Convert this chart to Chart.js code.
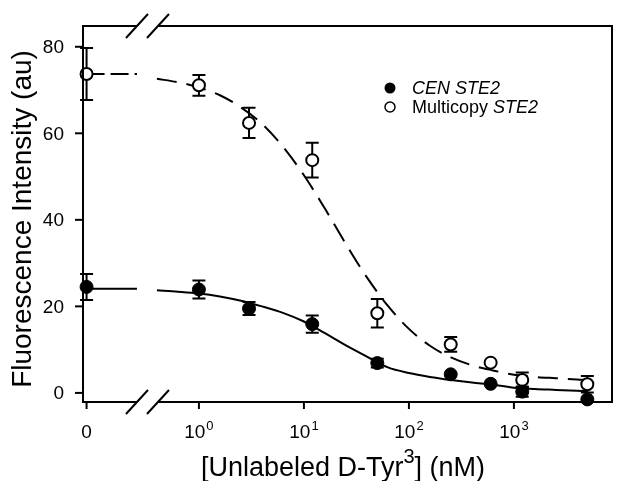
<!DOCTYPE html>
<html>
<head>
<meta charset="utf-8">
<script src="https://cdn.jsdelivr.net/npm/chart.js@4.4.0/dist/chart.umd.min.js"></script>
<style>
  html, body { margin: 0; padding: 0; background: #fff; }
</style>
</head>
<body>
<canvas id="bindingChart" width="620" height="481"></canvas>
<script>
// Concentrations of unlabeled D-Tyr3 (nM); 0 is drawn left of the axis break
const concentrations = [0, 1, 3, 12, 50, 250, 600, 1200, 5000];

// CEN STE2 (filled circles)
const cenValues = [24.5, 23.9, 19.5, 15.9, 6.9, 4.3, 2.1, 0.3, -1.5];
const cenErrors = [3.0, 2.1, 1.5, 2.0, 1.0, 0, 0, 1.2, 0];

// Multicopy STE2 (open circles)
const multiValues = [73.7, 71.1, 62.4, 53.8, 18.4, 11.2, 7.0, 3.0, 2.0];
const multiErrors = [6.0, 2.4, 3.5, 4.0, 3.3, 1.7, 0, 1.7, 1.9];

// Fitted curves, x in log10(nM)
const fitLogX = [-0.4, -0.2, 0, 0.2, 0.4, 0.6, 0.8, 1.0, 1.2, 1.4, 1.6, 1.8, 2.0, 2.2, 2.4, 2.6, 2.8, 3.0, 3.2, 3.4, 3.6, 3.7];
const cenFit = [23.7, 23.4, 23.0, 22.3, 21.3, 20.0, 18.5, 16.5, 13.8, 11.0, 8.4, 5.9, 4.6, 3.7, 3.0, 2.4, 1.9, 1.2, 0.9, 0.7, 0.5, 0.4];
const multiFit = [72.6, 71.8, 70.6, 68.8, 66.0, 62.2, 56.9, 50.3, 42.6, 34.4, 26.7, 20.1, 14.8, 10.9, 8.2, 6.4, 5.2, 4.2, 3.7, 3.4, 3.1, 3.0];
// flat part of each fit at zero concentration
const cenFitZero = 24.1;
const multiFitZero = 73.7;

const yTicks = [0, 20, 40, 60, 80];
const xTickConc = [0, 1, 10, 100, 1000];
const xTickBase = ["0", "10", "10", "10", "10"];
const xTickExp = ["", "0", "1", "2", "3"];

// axis layout (log10 units)
const zeroPos = -1.07;
const breakStart = -0.59;
const breakEnd = -0.39;

const FONT = '"Liberation Sans", Arial, sans-serif';

function xOf(conc) {
  return conc === 0 ? zeroPos : Math.log10(conc);
}

function pts(xs, ys) {
  return xs.map((x, i) => ({ x: x, y: ys[i] }));
}

const decorPlugin = {
  id: "decor",
  beforeDatasetsDraw(chart) {
    const ctx = chart.ctx;
    const xs = chart.scales.x;
    const ys = chart.scales.y;
    ctx.save();
    ctx.strokeStyle = "#000";
    ctx.lineWidth = 2;
    const series = [[cenValues, cenErrors], [multiValues, multiErrors]];
    series.forEach(([vals, errs]) => {
      concentrations.forEach((c, i) => {
        if (!errs[i]) return;
        const px = xs.getPixelForValue(xOf(c));
        const top = ys.getPixelForValue(vals[i] + errs[i]);
        const bot = ys.getPixelForValue(vals[i] - errs[i]);
        ctx.beginPath();
        ctx.moveTo(px, top);
        ctx.lineTo(px, bot);
        ctx.moveTo(px - 6.5, top);
        ctx.lineTo(px + 6.5, top);
        ctx.moveTo(px - 6.5, bot);
        ctx.lineTo(px + 6.5, bot);
        ctx.stroke();
      });
    });
    ctx.restore();
  },
  afterDraw(chart) {
    const ctx = chart.ctx;
    const area = chart.chartArea;
    const xs = chart.scales.x;
    const ys = chart.scales.y;
    const b1 = xs.getPixelForValue(breakStart);
    const b2 = xs.getPixelForValue(breakEnd);

    ctx.save();
    ctx.strokeStyle = "#000";
    ctx.fillStyle = "#000";
    ctx.lineWidth = 2;

    // frame with gaps at the break
    ctx.beginPath();
    ctx.moveTo(area.left, area.top);
    ctx.lineTo(area.left, area.bottom);
    ctx.moveTo(area.right, area.top);
    ctx.lineTo(area.right, area.bottom);
    [area.top, area.bottom].forEach((y) => {
      ctx.moveTo(area.left - 1, y);
      ctx.lineTo(b1, y);
      ctx.moveTo(b2, y);
      ctx.lineTo(area.right + 1, y);
    });
    ctx.stroke();

    // break marks
    ctx.beginPath();
    [area.top, area.bottom].forEach((y) => {
      [b1, b2].forEach((bx) => {
        ctx.moveTo(bx - 11, y + 12);
        ctx.lineTo(bx + 11, y - 12);
      });
    });
    ctx.stroke();

    // y ticks and labels
    ctx.font = "19px " + FONT;
    ctx.textAlign = "right";
    ctx.textBaseline = "middle";
    yTicks.forEach((v) => {
      const py = ys.getPixelForValue(v);
      ctx.beginPath();
      ctx.moveTo(area.left - 8, py);
      ctx.lineTo(area.left, py);
      ctx.stroke();
      ctx.fillText(String(v), area.left - 19, py + 1);
    });

    // x ticks and labels
    ctx.textBaseline = "alphabetic";
    xTickConc.forEach((c, i) => {
      const px = xs.getPixelForValue(xOf(c));
      ctx.beginPath();
      ctx.moveTo(px, area.bottom);
      ctx.lineTo(px, area.bottom + 7);
      ctx.stroke();
      ctx.font = "19px " + FONT;
      const wb = ctx.measureText(xTickBase[i]).width;
      ctx.font = "13px " + FONT;
      const we = xTickExp[i] ? ctx.measureText(xTickExp[i]).width + 1 : 0;
      const start = px - (wb + we) / 2;
      ctx.textAlign = "left";
      ctx.font = "19px " + FONT;
      ctx.fillText(xTickBase[i], start, 438);
      if (xTickExp[i]) {
        ctx.font = "13px " + FONT;
        ctx.fillText(xTickExp[i], start + wb + 1, 430);
      }
    });

    // x title with superscript
    const partA = "[Unlabeled D-Tyr";
    const partB = "3";
    const partC = "] (nM)";
    ctx.font = "27px " + FONT;
    const wa = ctx.measureText(partA).width;
    const wc = ctx.measureText(partC).width;
    ctx.font = "20px " + FONT;
    const wbSup = ctx.measureText(partB).width;
    let tx = 343 - (wa + wbSup + wc) / 2;
    ctx.textAlign = "left";
    ctx.font = "27px " + FONT;
    ctx.fillText(partA, tx, 476);
    tx += wa;
    ctx.font = "20px " + FONT;
    ctx.fillText(partB, tx, 463);
    tx += wbSup;
    ctx.font = "27px " + FONT;
    ctx.fillText(partC, tx, 476);

    // y title
    ctx.save();
    ctx.translate(23, 219);
    ctx.rotate(-Math.PI / 2);
    ctx.textAlign = "center";
    ctx.textBaseline = "middle";
    ctx.font = "28px " + FONT;
    ctx.fillText("Fluorescence Intensity (au)", 0, 0);
    ctx.restore();

    // legend
    const lx = 390;
    const ly1 = 88;
    const ly2 = 107;
    ctx.beginPath();
    ctx.arc(lx, ly1, 5.5, 0, Math.PI * 2);
    ctx.fill();
    ctx.beginPath();
    ctx.lineWidth = 1.5;
    ctx.arc(lx, ly2, 5, 0, Math.PI * 2);
    ctx.stroke();
    ctx.textAlign = "left";
    ctx.textBaseline = "middle";
    ctx.font = "italic 18px " + FONT;
    ctx.fillText("CEN STE2", 412, ly1 + 1);
    ctx.font = "18px " + FONT;
    const wm = ctx.measureText("Multicopy ").width;
    ctx.fillText("Multicopy ", 412, ly2 + 1);
    ctx.font = "italic 18px " + FONT;
    ctx.fillText("STE2", 412 + wm, ly2 + 1);

    ctx.restore();
  }
};

const ctx = document.getElementById("bindingChart").getContext("2d");
new Chart(ctx, {
  type: "scatter",
  data: {
    datasets: [
      {
        label: "CEN STE2",
        data: pts(concentrations.map(xOf), cenValues),
        pointRadius: 6.5,
        pointBackgroundColor: "#000",
        pointBorderColor: "#000",
        pointBorderWidth: 1,
        showLine: false,
        clip: false,
        order: 0
      },
      {
        label: "Multicopy STE2",
        data: pts(concentrations.map(xOf), multiValues),
        pointRadius: 6,
        pointBackgroundColor: "#fff",
        pointBorderColor: "#000",
        pointBorderWidth: 2,
        showLine: false,
        clip: false,
        order: 0
      },
      {
        label: "CEN fit",
        data: pts(fitLogX, cenFit),
        showLine: true,
        pointRadius: 0,
        borderColor: "#000",
        borderWidth: 2,
        cubicInterpolationMode: "monotone",
        clip: false,
        order: 1
      },
      {
        label: "CEN fit zero",
        data: [{ x: zeroPos, y: cenFitZero }, { x: breakStart, y: cenFitZero }],
        showLine: true,
        pointRadius: 0,
        borderColor: "#000",
        borderWidth: 2,
        clip: false,
        order: 1
      },
      {
        label: "Multicopy fit",
        data: pts(fitLogX, multiFit),
        showLine: true,
        pointRadius: 0,
        borderColor: "#000",
        borderWidth: 2,
        borderDash: [20, 10],
        cubicInterpolationMode: "monotone",
        clip: false,
        order: 1
      },
      {
        label: "Multicopy fit zero",
        data: [{ x: zeroPos, y: multiFitZero }, { x: breakStart, y: multiFitZero }],
        showLine: true,
        pointRadius: 0,
        borderColor: "#000",
        borderWidth: 2,
        borderDash: [18, 6],
        clip: false,
        order: 1
      }
    ]
  },
  options: {
    responsive: false,
    animation: false,
    devicePixelRatio: 1,
    layout: { padding: { left: 83, right: 3, top: 26, bottom: 79 } },
    scales: {
      x: { type: "linear", min: -1.104, max: 3.934, display: false },
      y: { type: "linear", min: -2.1, max: 84.8, display: false }
    },
    plugins: {
      legend: { display: false },
      tooltip: { enabled: false }
    }
  },
  plugins: [decorPlugin]
});
</script>
</body>
</html>
